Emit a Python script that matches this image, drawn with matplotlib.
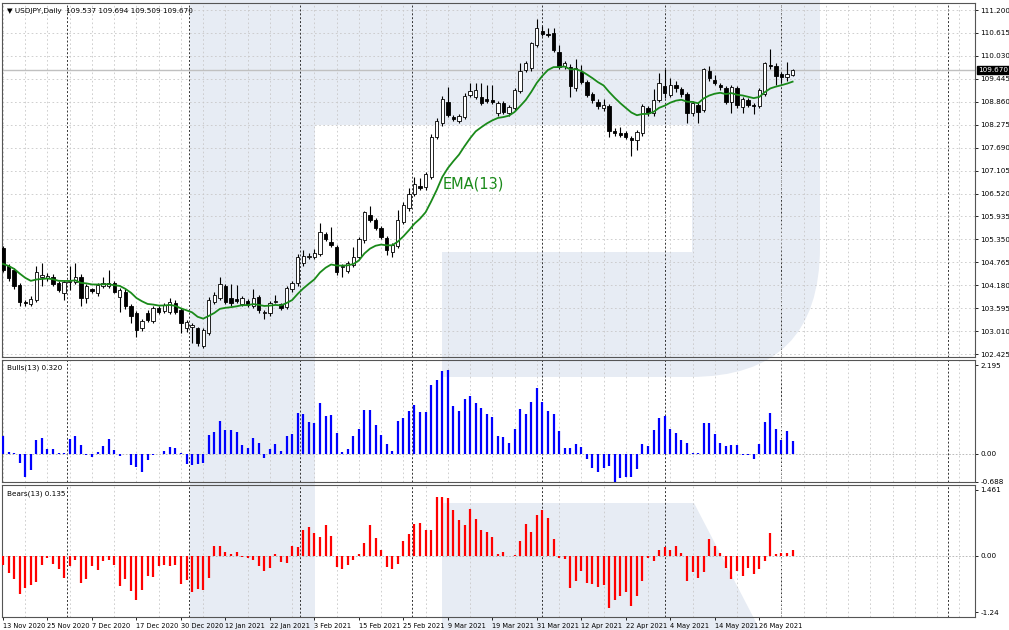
import numpy as np
import matplotlib
matplotlib.use("Agg")
import matplotlib.pyplot as plt
from matplotlib.patches import Rectangle, FancyBboxPatch, Polygon

# ---------------------------------------------------------------------------
# Data: USDJPY daily candles (open, high, low, close), 13 Nov 2020 - 1 Jun 2021
# ---------------------------------------------------------------------------
opens = [105.12, 104.66, 104.57, 104.19, 103.76, 103.70, 103.81, 104.40, 104.36, 104.40,
         104.25, 103.99, 104.27, 104.27, 104.40, 103.85, 104.08, 103.97, 104.15, 104.17,
         104.23, 103.89, 104.02, 103.65, 103.46, 103.08, 103.46, 103.28, 103.59, 103.52,
         103.51, 103.72, 103.55, 103.08, 103.12, 103.08, 102.62, 102.96, 103.76, 103.85,
         104.15, 103.85, 103.82, 103.70, 103.78, 103.66, 103.89, 103.47, 103.46, 103.76,
         103.70, 103.63, 104.08, 104.23, 104.74, 104.91, 104.89, 104.99, 105.49, 105.28,
         105.16, 104.64, 104.55, 104.70, 104.91, 105.33, 105.97, 105.85, 105.63, 105.38,
         105.04, 105.18, 105.80, 106.14, 106.51, 106.70, 106.68, 106.95, 107.97, 108.31,
         108.85, 108.46, 108.37, 108.48, 109.03, 108.99, 108.97, 108.92, 108.91, 108.57,
         108.82, 108.57, 108.69, 109.14, 109.67, 109.71, 110.31, 110.66, 110.58, 110.62,
         110.14, 109.77, 109.76, 109.20, 109.63, 109.37, 109.05, 108.86, 108.69, 108.74,
         108.12, 108.07, 108.06, 107.93, 107.88, 108.06, 108.69, 108.57, 108.91, 109.26,
         109.03, 109.30, 109.18, 109.07, 108.57, 108.78, 108.65, 109.65, 109.41, 109.29,
         109.20, 108.86, 109.20, 108.73, 108.90, 108.77, 108.75, 109.07, 109.80, 109.77,
         109.57, 109.48, 109.537]
highs = [105.17, 104.72, 104.62, 104.25, 103.80, 103.90, 104.66, 104.74, 104.48, 104.46,
         104.30, 104.32, 104.66, 104.74, 104.46, 104.20, 104.12, 104.25, 104.40, 104.57,
         104.28, 104.10, 104.08, 103.70, 103.52, 103.33, 103.55, 103.65, 103.66, 103.74,
         103.85, 103.80, 103.60, 103.30, 103.22, 103.12, 103.10, 103.87, 104.00, 104.40,
         104.20, 104.20, 104.19, 103.90, 103.82, 104.08, 103.94, 103.55, 103.78, 103.93,
         103.74, 104.16, 104.30, 104.97, 105.08, 105.00, 105.10, 105.76, 105.55, 105.66,
         105.20, 104.72, 104.80, 105.16, 105.42, 106.08, 106.20, 105.90, 105.68, 105.44,
         105.27, 106.10, 106.30, 106.65, 106.95, 106.91, 107.08, 108.03, 108.44, 109.00,
         109.23, 108.52, 108.56, 109.08, 109.35, 109.35, 109.35, 109.29, 109.29, 108.88,
         108.88, 108.78, 109.22, 109.85, 109.90, 110.39, 110.96, 110.80, 110.73, 110.73,
         110.30, 109.90, 109.82, 109.94, 109.80, 109.42, 109.10, 108.92, 108.92, 108.80,
         108.18, 108.22, 108.12, 108.00, 108.15, 108.80, 108.75, 109.18, 109.60, 109.69,
         109.46, 109.40, 109.24, 109.12, 108.88, 108.85, 109.71, 109.77, 109.55, 109.35,
         109.26, 109.29, 109.26, 108.98, 108.96, 108.82, 109.22, 109.88, 110.20, 109.85,
         109.62, 109.88, 109.694]
lows = [104.53, 104.30, 104.08, 103.64, 103.66, 103.66, 103.76, 104.15, 104.30, 104.15,
        104.00, 103.81, 104.06, 104.22, 103.64, 103.72, 103.98, 103.90, 104.10, 104.12,
        103.97, 103.51, 103.58, 103.21, 102.87, 103.02, 103.25, 103.22, 103.45, 103.46,
        103.45, 103.45, 102.96, 103.00, 102.70, 102.64, 102.57, 102.90, 103.70, 103.80,
        103.70, 103.66, 103.72, 103.64, 103.62, 103.60, 103.46, 103.31, 103.40, 103.72,
        103.54, 103.57, 104.02, 104.17, 104.68, 104.85, 104.84, 104.93, 105.30, 105.16,
        104.45, 104.40, 104.48, 104.64, 104.85, 105.27, 105.80, 105.58, 105.35, 104.95,
        104.91, 105.12, 105.75, 106.08, 106.45, 106.60, 106.62, 106.89, 107.91, 108.25,
        108.46, 108.36, 108.31, 108.42, 108.97, 108.93, 108.78, 108.84, 108.80, 108.50,
        108.55, 108.50, 108.63, 109.08, 109.61, 109.65, 110.25, 110.55, 110.50, 110.12,
        109.70, 109.70, 108.99, 109.14, 109.31, 108.97, 108.84, 108.68, 108.63, 107.97,
        107.98, 107.95, 107.91, 107.48, 107.63, 108.00, 108.50, 108.50, 108.85, 108.95,
        108.97, 109.10, 108.98, 108.31, 108.50, 108.33, 108.60, 109.40, 109.28, 109.16,
        108.80, 108.57, 108.70, 108.58, 108.72, 108.55, 108.70, 109.00, 109.70, 109.30,
        109.35, 109.40, 109.509]
closes = [104.57, 104.36, 104.15, 103.76, 103.72, 103.83, 104.53, 104.43, 104.42, 104.21,
          104.06, 104.27, 104.29, 104.40, 103.85, 104.15, 104.04, 104.19, 104.23, 104.23,
          104.02, 104.06, 103.64, 103.40, 103.04, 103.27, 103.30, 103.59, 103.51, 103.68,
          103.76, 103.51, 103.21, 103.25, 103.17, 102.70, 103.04, 103.81, 103.93, 104.21,
          103.76, 103.72, 103.77, 103.85, 103.68, 103.86, 103.55, 103.49, 103.72, 103.78,
          103.59, 104.10, 104.25, 104.91, 104.93, 104.93, 105.01, 105.55, 105.35, 105.21,
          104.53, 104.66, 104.74, 104.91, 105.37, 106.06, 105.85, 105.63, 105.40, 105.08,
          105.21, 105.85, 106.23, 106.52, 106.76, 106.65, 107.02, 107.97, 108.38, 108.92,
          108.52, 108.42, 108.50, 109.02, 109.14, 109.16, 108.84, 108.89, 108.86, 108.82,
          108.61, 108.72, 109.16, 109.65, 109.84, 110.35, 110.73, 110.60, 110.56, 110.18,
          109.76, 109.84, 109.26, 109.71, 109.37, 109.03, 108.90, 108.74, 108.78, 108.12,
          108.07, 108.01, 107.97, 107.88, 108.10, 108.74, 108.57, 108.91, 109.33, 109.09,
          109.29, 109.20, 109.05, 108.57, 108.82, 108.61, 109.69, 109.46, 109.35, 109.23,
          108.86, 109.23, 108.78, 108.92, 108.78, 108.75, 109.16, 109.84, 109.78, 109.52,
          109.50, 109.57, 109.670]

EMA_PERIOD = 13
EMA_START = 104.75  # EMA value carried in from before the first visible bar

date_labels = ["13 Nov 2020", "25 Nov 2020", "7 Dec 2020", "17 Dec 2020", "30 Dec 2020",
               "12 Jan 2021", "22 Jan 2021", "3 Feb 2021", "15 Feb 2021", "25 Feb 2021",
               "9 Mar 2021", "19 Mar 2021", "31 Mar 2021", "12 Apr 2021", "22 Apr 2021",
               "4 May 2021", "14 May 2021", "26 May 2021"]
date_label_bars = [0, 8, 16, 24, 32, 40, 48, 56, 64, 72, 80, 88, 96, 104, 112, 120, 128, 136]
period_separators = [11.5, 33.5, 53.5, 73.5, 97.0, 119.0, 140.0, 170.0]

price_ticks = [111.200, 110.615, 110.030, 109.445, 108.860, 108.275, 107.690, 107.105,
               106.520, 105.935, 105.350, 104.765, 104.180, 103.595, 103.010, 102.425]

# ---------------------------------------------------------------------------
# Indicators
# ---------------------------------------------------------------------------
o, h, l, c = map(np.array, (opens, highs, lows, closes))
alpha = 2.0 / (EMA_PERIOD + 1)
ema = np.empty_like(c)
prev = EMA_START
for i, v in enumerate(c):
    prev = prev + alpha * (v - prev)
    ema[i] = prev
bulls = h - ema
bears = l - ema
x = np.arange(len(c))

# ---------------------------------------------------------------------------
# Figure
# ---------------------------------------------------------------------------
W, H = 1009, 630
fig = plt.figure(figsize=(W / 100, H / 100), dpi=100)
fs = 5.2

# watermark logo drawn in pixel space behind everything
bg = fig.add_axes([0, 0, 1, 1], zorder=0)
bg.set_xlim(0, W); bg.set_ylim(H, 0); bg.axis("off")
shade = "#e7ecf4"
bg.add_patch(FancyBboxPatch((190, -200), 630, 577, boxstyle="round,pad=0,rounding_size=130",
                            fc=shade, ec="none"))
bg.add_patch(Rectangle((314, 125), 378, 127, fc="white", ec="none"))
bg.add_patch(Rectangle((314, 252), 128, 125, fc="white", ec="none"))
bg.add_patch(Rectangle((190, 0), 125, H, fc=shade, ec="none"))
bg.add_patch(Polygon([(442, 503), (694, 503), (760, H), (442, H)], fc=shade, ec="none"))

xl = (-0.18, 174.8)
ax = fig.add_axes([2 / W, 1 - 357 / H, 973 / W, 354 / H], zorder=2)
axb = fig.add_axes([2 / W, 1 - 482 / H, 973 / W, 122 / H], zorder=2)
axr = fig.add_axes([2 / W, 1 - 617 / H, 973 / W, 132 / H], zorder=2)

for a in (ax, axb, axr):
    a.set_facecolor("none")
    a.set_xlim(*xl)
    a.yaxis.tick_right()
    a.tick_params(axis="both", labelsize=fs, length=2.5, width=0.6, pad=1.5)
    for s in a.spines.values():
        s.set_color("#555555"); s.set_linewidth(0.8)
    a.set_xticks(np.arange(0, 176, 4), minor=True)
    a.grid(True, which="minor", axis="x", color="#c8c8c8", ls=(0, (2, 3)), lw=0.6)
    a.tick_params(axis="x", which="minor", length=0)
    for sx in period_separators:
        a.axvline(sx, color="#333333", ls=(0, (2, 2)), lw=0.7, zorder=1)
    a.set_xticks([])

# --- price panel ---
ax.set_ylim(102.35, 111.38)
ax.set_yticks(price_ticks)
ax.set_yticklabels([f"{t:.3f}" for t in price_ticks])
for t in price_ticks:
    ax.axhline(t, color="#c8c8c8", ls=(0, (2, 3)), lw=0.6, zorder=1)
ax.axhline(c[-1], color="#c0c0c0", lw=1.0, zorder=1)
ax.vlines(x, l, h, color="black", lw=0.8, zorder=3)
up = c >= o
bw = 0.6
for i in x:
    lo, hi = min(o[i], c[i]), max(o[i], c[i])
    ax.add_patch(Rectangle((i - bw / 2, lo), bw, max(hi - lo, 0.015),
                           fc="white" if up[i] else "black", ec="black", lw=0.6, zorder=4))
ax.plot(x, ema, color="#1a8a1a", lw=1.3, zorder=5)
ax.text(79, 106.76, "EMA(13)", color="#1a8a1a", fontsize=10.5, va="center", zorder=6)
ax.text(0.005, 0.985, "\u25BC USDJPY,Daily  109.537 109.694 109.509 109.670",
        transform=ax.transAxes, fontsize=fs, va="top")
ax.text(1.003, (c[-1] - 102.35) / (111.38 - 102.35), f"{c[-1]:.3f}", transform=ax.transAxes,
        fontsize=fs, va="center", color="white",
        bbox=dict(fc="black", ec="black", pad=0.6), zorder=7)

# --- Bulls power ---
axb.set_ylim(-0.70, 2.32)
axb.set_yticks([2.195, 0.0, -0.688])
axb.set_yticklabels(["2.195", "0.00", "-0.688"])
axb.axhline(0, color="#b0b0b0", ls=(0, (2, 2)), lw=0.6)
axb.vlines(x, 0, bulls, color="#0000ff", lw=1.6, zorder=3)
axb.text(0.005, 0.96, f"Bulls(13) {bulls[-1]:.3f}", transform=axb.transAxes,
         fontsize=fs, va="top")

# --- Bears power ---
axr.set_ylim(-1.35, 1.57)
axr.set_yticks([1.461, 0.0, -1.24])
axr.set_yticklabels(["1.461", "0.00", "-1.24"])
axr.axhline(0, color="#b0b0b0", ls=(0, (2, 2)), lw=0.6)
axr.vlines(x, 0, bears, color="#ff0000", lw=1.6, zorder=3)
axr.text(0.005, 0.96, f"Bears(13) {bears[-1]:.3f}", transform=axr.transAxes,
         fontsize=fs, va="top")
axr.set_xticks(date_label_bars)
axr.set_xticklabels(date_labels, ha="left")
axr.tick_params(axis="x", length=2.5, labelsize=4.8, pad=1.5)

fig.savefig("out.png", dpi=100)
